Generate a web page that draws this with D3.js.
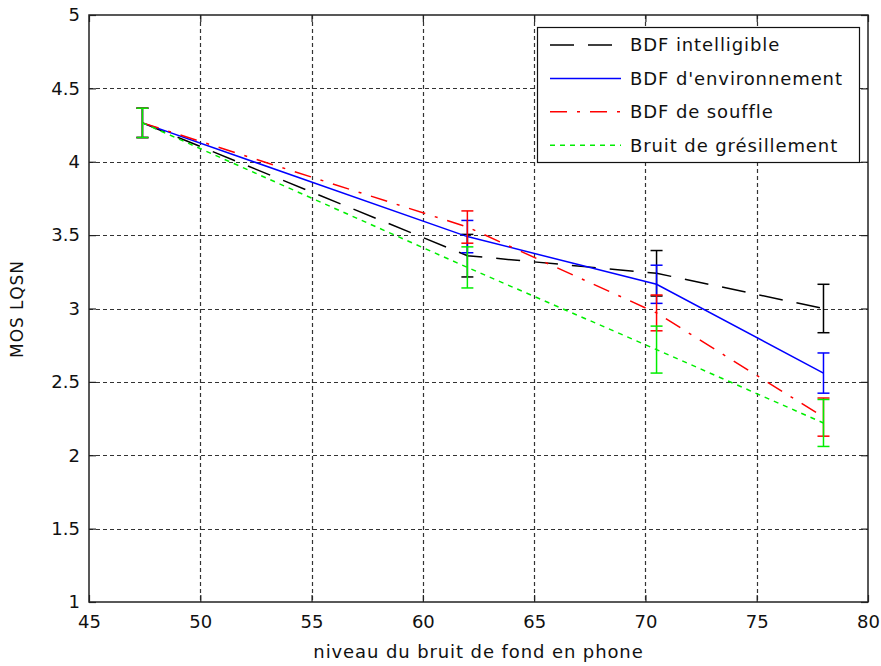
<!DOCTYPE html>
<html>
<head>
<meta charset="utf-8">
<script src="https://cdn.jsdelivr.net/npm/d3@7/dist/d3.min.js"></script>
<style>
  html, body { margin: 0; padding: 0; background: #ffffff; }
  svg { display: block; }
  text { font-family: "DejaVu Sans", sans-serif; fill: #111; }
</style>
</head>
<body>
<svg id="chart" width="881" height="666"></svg>
<script>
// ---- data ----
const xValues = [47.4, 62, 70.5, 78];
const seriesNames = ["BDF intelligible", "BDF d'environnement", "BDF de souffle", "Bruit de grésillement"];
const intelligible = [4.265, 3.36, 3.24, 3.00];
const intelligibleErr = [0.1, 0.145, 0.155, 0.165];
const environnement = [4.265, 3.49, 3.165, 2.56];
const environnementErr = [0.1, 0.11, 0.13, 0.137];
const souffle = [4.265, 3.555, 2.97, 2.26];
const souffleErr = [0.1, 0.11, 0.122, 0.13];
const gresillement = [4.265, 3.28, 2.72, 2.22];
const gresillementErr = [0.1, 0.14, 0.16, 0.16];
const xTicks = [45, 50, 55, 60, 65, 70, 75, 80];
const yTicks = [1, 1.5, 2, 2.5, 3, 3.5, 4, 4.5, 5];
const xLabel = "niveau du bruit de fond en phone";
const yLabel = "MOS LQSN";

// ---- styles ----
const seriesStyle = [
  { color: "#000000", dash: "24,14" },
  { color: "#0000ff", dash: null },
  { color: "#ff0000", dash: "17,10,3,10" },
  { color: "#00ee00", dash: "5,5" }
];
const seriesValues = [intelligible, environnement, souffle, gresillement];
const seriesErrs = [intelligibleErr, environnementErr, souffleErr, gresillementErr];

const L = 89, R = 868, T = 15, B = 602;
const svg = d3.select("#chart");
const x = d3.scaleLinear().domain([45, 80]).range([L, R]);
const y = d3.scaleLinear().domain([1, 5]).range([B, T]);

svg.append("rect").attr("x", L).attr("y", T).attr("width", R - L).attr("height", B - T).attr("fill", "#fff");

// grid
const grid = svg.append("g").attr("stroke", "#333").attr("stroke-width", 1.2).attr("stroke-dasharray", "4,3");
grid.selectAll("line.gx").data(xTicks.slice(1, -1)).join("line")
  .attr("x1", d => Math.round(x(d)) + 0.5).attr("x2", d => Math.round(x(d)) + 0.5)
  .attr("y1", T).attr("y2", B);
grid.selectAll("line.gy").data(yTicks.slice(1, -1)).join("line")
  .attr("y1", d => Math.round(y(d)) + 0.5).attr("y2", d => Math.round(y(d)) + 0.5)
  .attr("x1", L).attr("x2", R);

// axes
const axStyle = g => {
  g.select(".domain").remove();
  g.selectAll(".tick line").attr("stroke", "#222").attr("stroke-width", 1.2);
  g.selectAll(".tick text").attr("font-size", 18).attr("fill", "#111")
    .style("font-family", "DejaVu Sans, sans-serif");
};
svg.append("g").attr("transform", `translate(0,${B})`)
  .call(d3.axisBottom(x).tickValues(xTicks).tickFormat(d3.format("d")).tickSize(-7).tickPadding(13))
  .call(axStyle);
svg.append("g").attr("transform", `translate(${L},0)`)
  .call(d3.axisLeft(y).tickValues(yTicks).tickFormat(d => String(d)).tickSize(-7).tickPadding(9))
  .call(axStyle);
svg.append("g").attr("transform", `translate(0,${T})`)
  .call(d3.axisTop(x).tickValues(xTicks).tickFormat("").tickSize(-7))
  .call(axStyle);
svg.append("g").attr("transform", `translate(${R},0)`)
  .call(d3.axisRight(y).tickValues(yTicks).tickFormat("").tickSize(-7))
  .call(axStyle);

// box
svg.append("rect").attr("x", L).attr("y", T).attr("width", R - L).attr("height", B - T)
  .attr("fill", "none").attr("stroke", "#222").attr("stroke-width", 1.5);

// series
const line = d3.line().x(d => x(d[0])).y(d => y(d[1]));
seriesValues.forEach((vals, i) => {
  const st = seriesStyle[i];
  const pts = xValues.map((xv, j) => [xv, vals[j]]);
  const g = svg.append("g");
  g.append("path").datum(pts).attr("d", line)
    .attr("fill", "none").attr("stroke", st.color).attr("stroke-width", 1.5)
    .attr("stroke-dasharray", st.dash);
  const errs = seriesErrs[i];
  const eb = g.selectAll("g.eb").data(xValues.map((xv, j) => ({ x: xv, v: vals[j], e: errs[j] }))).join("g");
  eb.append("line").attr("x1", d => x(d.x)).attr("x2", d => x(d.x))
    .attr("y1", d => y(d.v - d.e)).attr("y2", d => y(d.v + d.e))
    .attr("stroke", st.color).attr("stroke-width", 1.5);
  [1, -1].forEach(s => {
    eb.append("line").attr("x1", d => x(d.x) - 6).attr("x2", d => x(d.x) + 6)
      .attr("y1", d => y(d.v + s * d.e)).attr("y2", d => y(d.v + s * d.e))
      .attr("stroke", st.color).attr("stroke-width", 1.5);
  });
});

// labels
svg.append("text").attr("x", (L + R) / 2).attr("y", 658).attr("text-anchor", "middle")
  .attr("font-size", 18).attr("letter-spacing", 0.9).text(xLabel);
svg.append("text").attr("transform", "translate(23,309) rotate(-90)").attr("text-anchor", "middle")
  .attr("font-size", 17).attr("letter-spacing", 0.9).text(yLabel);

// legend
const lg = svg.append("g");
lg.append("rect").attr("x", 537.5).attr("y", 27.5).attr("width", 322).attr("height", 135)
  .attr("fill", "#fff").attr("stroke", "#111").attr("stroke-width", 1.2);
seriesNames.forEach((name, i) => {
  const cy = 45 + i * 33.4;
  const st = seriesStyle[i];
  lg.append("line").attr("x1", 550).attr("x2", 621).attr("y1", cy).attr("y2", cy)
    .attr("stroke", st.color).attr("stroke-width", 1.5).attr("stroke-dasharray", st.dash);
  lg.append("text").attr("x", 630).attr("y", cy).attr("dy", "0.35em")
    .attr("font-size", 18).attr("letter-spacing", 0.9).text(name);
});
</script>
</body>
</html>
